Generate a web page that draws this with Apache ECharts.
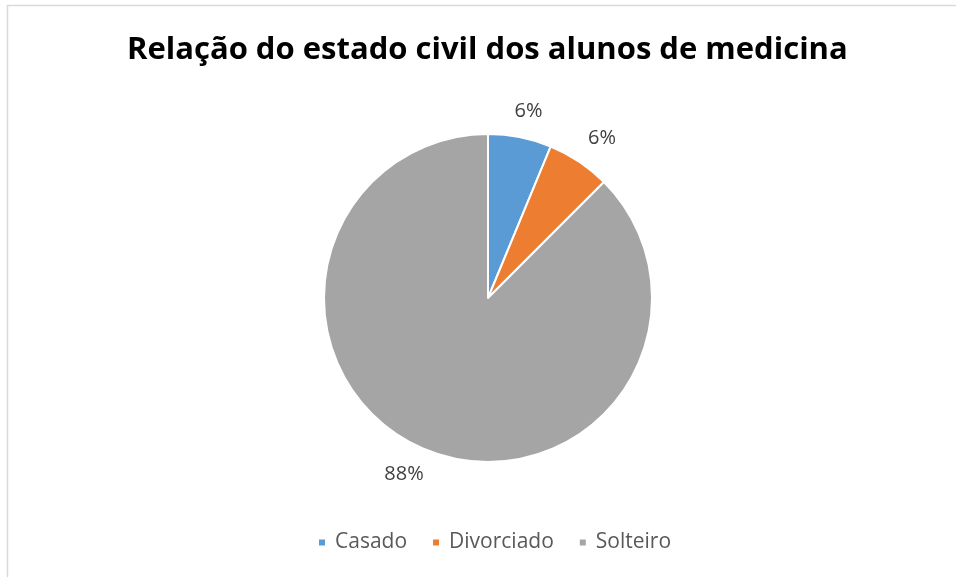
<!DOCTYPE html>
<html><head><meta charset="utf-8">
<script src="https://cdn.jsdelivr.net/npm/echarts@6/dist/echarts.min.js"></script>
<style>html,body{margin:0;padding:0;background:#fff}#c{width:956px;height:577px}</style>
</head><body><div id="c"></div>
<script>
const titleText = 'Relação do estado civil dos alunos de medicina';
const categories = ['Casado', 'Divorciado', 'Solteiro'];
const values = [1, 1, 14];
const colors = ['#5b9bd5', '#ed7d31', '#a5a5a5'];

const CX = 488, CY = 298, R = 164;
const total = values.reduce((a, b) => a + b, 0);
function midAngle(i) {
  let s = 0;
  for (let k = 0; k < i; k++) s += values[k];
  return (s + values[i] / 2) / total * 2 * Math.PI;
}
const clamp = v => Math.max(-1, Math.min(1, v));

const chart = echarts.init(document.getElementById('c'));
chart.setOption({
  animation: false,
  graphic: [{type: 'rect', shape: {x: 7.5, y: 5.5, width: 960, height: 600}, style: {fill: 'none', stroke: '#d9d9d9', lineWidth: 1.5}, silent: true}],
  title: {text: titleText, left: 122, top: 30,
    textStyle: {fontFamily: 'Open Sans', fontWeight: 'bold', fontSize: 31, color: '#000'}},
  legend: {bottom: 19, left: 312, itemWidth: 8, itemHeight: 8, itemGap: 24, icon: 'rect',
    textStyle: {fontFamily: 'Open Sans', fontSize: 21, color: '#595959', padding: [0, 0, 0, 4]}},
  color: colors,
  series: [{
    type: 'pie', center: [CX, CY], radius: R, startAngle: 90, clockwise: true,
    itemStyle: {borderColor: '#fff', borderWidth: 2},
    label: {show: true, position: 'outside', formatter: p => Math.round(p.percent) + '%',
      fontFamily: 'Open Sans', fontSize: 20, color: '#404040'},
    labelLine: {show: false},
    labelLayout: function (p) {
      const a = midAngle(p.dataIndex);
      const sx = Math.sin(a), cy = Math.cos(a);
      const d = R + 16;
      const w = p.labelRect.width, h = p.labelRect.height;
      return {
        x: CX + d * sx + w / 2 * clamp(sx * 2),
        y: CY - d * cy - h / 2 * clamp(cy * 3),
        align: 'center', verticalAlign: 'middle'
      };
    },
    data: categories.map((c, i) => ({name: c, value: values[i]}))
  }]
});
</script></body></html>
